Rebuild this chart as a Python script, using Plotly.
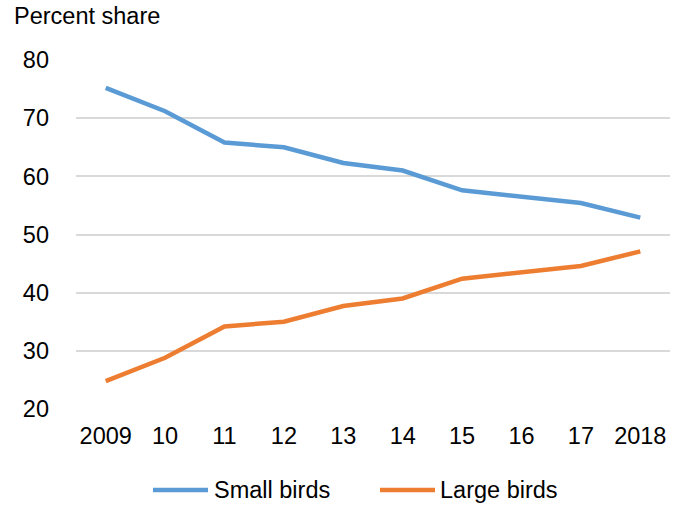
import plotly.graph_objects as go

years = ["2009", "10", "11", "12", "13", "14", "15", "16", "17", "2018"]
small_birds = [75.2, 71.2, 65.8, 65.0, 62.3, 61.0, 57.6, 56.5, 55.4, 52.9]
large_birds = [24.8, 28.8, 34.2, 35.0, 37.7, 39.0, 42.4, 43.5, 44.6, 47.1]
y_ticks = [20, 30, 40, 50, 60, 70, 80]
series_names = ["Small birds", "Large birds"]
series_colors = ["#5B9BD5", "#ED7D31"]

font = "Liberation Sans, Arial, sans-serif"
FS = 23.5

fig = go.Figure()
for name, vals, col in zip(series_names, [small_birds, large_birds], series_colors):
    fig.add_trace(go.Scatter(x=years, y=vals, mode="lines", name=name,
                             line=dict(color=col, width=4.5)))

# legend drawn below the plot: a line sample followed by the series name
legend_y = -0.232
legend_items = [(0.1296, 0.2222, 0.2290), (0.5118, 0.6044, 0.6094)]
shapes, annotations = [], []
for (x0, x1, xt), name, col in zip(legend_items, series_names, series_colors):
    shapes.append(dict(type="line", xref="paper", yref="paper", x0=x0, x1=x1,
                       y0=legend_y, y1=legend_y, line=dict(color=col, width=4.5)))
    annotations.append(dict(text=name, xref="paper", yref="paper", x=xt, y=legend_y,
                            xanchor="left", yanchor="middle", showarrow=False,
                            font=dict(size=FS)))

annotations.append(dict(text="Percent share", xref="paper", yref="paper",
                        x=-0.108, y=1.126, xanchor="left", yanchor="middle",
                        showarrow=False, font=dict(size=FS)))

fig.update_layout(
    width=681, height=506,
    margin=dict(l=76, r=11, t=60, b=97),
    paper_bgcolor="white", plot_bgcolor="white",
    font=dict(family=font, size=FS, color="#000000"),
    showlegend=False,
    shapes=shapes,
    annotations=annotations,
)
fig.update_xaxes(type="category", range=[-0.5, 9.5], showgrid=False, showline=False,
                 ticks="", tickfont=dict(size=FS), ticklabelstandoff=10, automargin=False)
fig.update_yaxes(range=[20, 80], tickvals=y_ticks, showgrid=True, gridcolor="#D9D9D9",
                 gridwidth=1.5, zeroline=False, showline=False, ticks="",
                 tickfont=dict(size=FS), ticklabelstandoff=26, automargin=False)

fig.write_html("out.html")
